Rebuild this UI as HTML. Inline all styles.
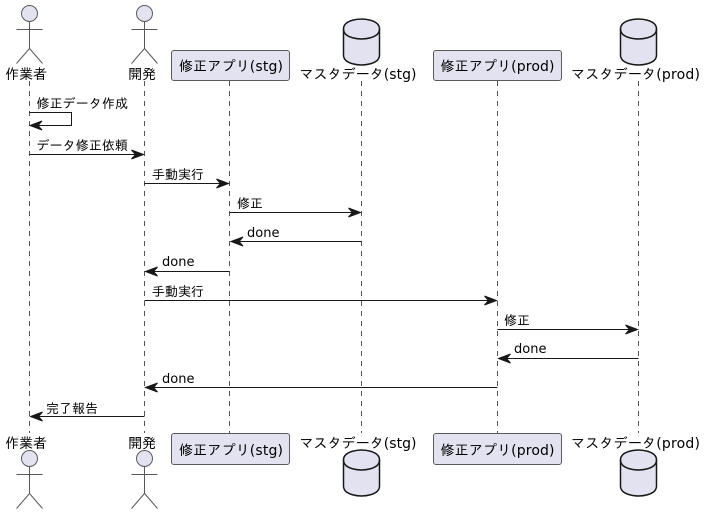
<!DOCTYPE html>
<html><head><meta charset="utf-8">
<style>
html,body{margin:0;padding:0;background:#fff;width:706px;height:514px;overflow:hidden}
svg{display:block}
text{font-family:"DejaVu Sans","WenQuanYi Zen Hei","IPAGothic",sans-serif;fill:#000}
.p{font-size:14px}
.m{font-size:13px}
.life{stroke:#555;stroke-width:1;stroke-dasharray:5,5}
.act{fill:#E2E2F0;stroke:#5a5a5a;stroke-width:1}
.box{fill:#E2E2F0;stroke:#5a5a5a;stroke-width:1}
.db{fill:#E2E2F0;stroke:#181818;stroke-width:1.5}
.ln{stroke:#181818;stroke-width:1;fill:none}
.ah{fill:#181818;stroke:#181818;stroke-width:1}
</style></head><body>
<svg width="706" height="514" viewBox="0 0 706 514" xmlns="http://www.w3.org/2000/svg">
<defs>
<g id="actor">
<circle class="act" cx="0" cy="0" r="8"/>
<path class="act" style="fill:none" d="M0,8V35M-13,16H13M0,35L-13,50M0,35L13,50"/>
</g>
<g id="db">
<path class="db" d="M-18,10C-18,0 0,0 0,0C0,0 18,0 18,10V36C18,46 0,46 0,46C0,46 -18,46 -18,36Z"/>
<path class="db" style="fill:none" d="M-18,10C-18,20 0,20 0,20C0,20 18,20 18,10"/>
</g>
<polygon id="r" class="ah" points="-12,-4.5 0,0 -12,4.5 -8,0"/>
<polygon id="l" class="ah" points="12,-4.5 0,0 12,4.5 8,0"/>
</defs>

<line class="life" x1="29.5" y1="81" x2="29.5" y2="433"/>
<line class="life" x1="144.5" y1="81" x2="144.5" y2="433"/>
<line class="life" x1="229.5" y1="81" x2="229.5" y2="433"/>
<line class="life" x1="361.5" y1="81" x2="361.5" y2="433"/>
<line class="life" x1="497.5" y1="81" x2="497.5" y2="433"/>
<line class="life" x1="638.5" y1="81" x2="638.5" y2="433"/>

<use href="#actor" x="29.5" y="13.5"/>
<use href="#actor" x="144.5" y="13.5"/>
<use href="#actor" x="29.5" y="458.5"/>
<use href="#actor" x="144.5" y="458.5"/>
<use href="#db" x="361.5" y="19"/>
<use href="#db" x="638.5" y="19"/>
<use href="#db" x="361.5" y="450"/>
<use href="#db" x="638.5" y="450"/>

<rect class="box" x="171.5" y="50.5" width="118" height="30" rx="2.5"/>
<rect class="box" x="433.5" y="50.5" width="128" height="30" rx="2.5"/>
<rect class="box" x="171.5" y="433.5" width="118" height="31" rx="2.5"/>
<rect class="box" x="433.5" y="433.5" width="128" height="31" rx="2.5"/>

<text class="p" x="5" y="79" textLength="42">作業者</text>
<text class="p" x="128" y="79" textLength="28">開発</text>
<text class="p" x="179" y="71" textLength="104">修正アプリ(stg)</text>
<text class="p" x="299.5" y="79" textLength="117">マスタデータ(stg)</text>
<text class="p" x="440.5" y="71" textLength="114">修正アプリ(prod)</text>
<text class="p" x="571" y="79" textLength="129">マスタデータ(prod)</text>
<text class="p" x="5" y="448" textLength="42">作業者</text>
<text class="p" x="128" y="448" textLength="28">開発</text>
<text class="p" x="179" y="455" textLength="104">修正アプリ(stg)</text>
<text class="p" x="299.5" y="448" textLength="117">マスタデータ(stg)</text>
<text class="p" x="440.5" y="455" textLength="114">修正アプリ(prod)</text>
<text class="p" x="571" y="448" textLength="129">マスタデータ(prod)</text>

<path class="ln" d="M29.5,112.5H71.5V125.5H33"/>
<use href="#l" x="30" y="125.5"/>
<text class="m" x="36.5" y="108" textLength="91.5">修正データ作成</text>

<line class="ln" x1="29.5" y1="154.5" x2="140" y2="154.5"/>
<use href="#r" x="143.5" y="154.5"/>
<text class="m" x="36.5" y="150" textLength="91.5">データ修正依頼</text>

<line class="ln" x1="144.5" y1="183.5" x2="225" y2="183.5"/>
<use href="#r" x="228.5" y="183.5"/>
<text class="m" x="152" y="179" textLength="52">手動実行</text>

<line class="ln" x1="229.5" y1="212.5" x2="357" y2="212.5"/>
<use href="#r" x="360.5" y="212.5"/>
<text class="m" x="237" y="208" textLength="26">修正</text>

<line class="ln" x1="361.5" y1="241.5" x2="234" y2="241.5"/>
<use href="#l" x="231" y="241.5"/>
<text class="m" x="247" y="237">done</text>

<line class="ln" x1="229.5" y1="271.5" x2="149" y2="271.5"/>
<use href="#l" x="145.5" y="271.5"/>
<text class="m" x="162" y="266">done</text>

<line class="ln" x1="144.5" y1="300.5" x2="493" y2="300.5"/>
<use href="#r" x="496.5" y="300.5"/>
<text class="m" x="152" y="296" textLength="52">手動実行</text>

<line class="ln" x1="497.5" y1="329.5" x2="634" y2="329.5"/>
<use href="#r" x="637.5" y="329.5"/>
<text class="m" x="504" y="325" textLength="26">修正</text>

<line class="ln" x1="638.5" y1="358.5" x2="502" y2="358.5"/>
<use href="#l" x="498.5" y="358.5"/>
<text class="m" x="514" y="353">done</text>

<line class="ln" x1="497.5" y1="387.5" x2="149" y2="387.5"/>
<use href="#l" x="145.5" y="387.5"/>
<text class="m" x="162" y="383">done</text>

<line class="ln" x1="144.5" y1="416.5" x2="34" y2="416.5"/>
<use href="#l" x="30.5" y="416.5"/>
<text class="m" x="46" y="413" textLength="52">完了報告</text>
</svg>
</body></html>
